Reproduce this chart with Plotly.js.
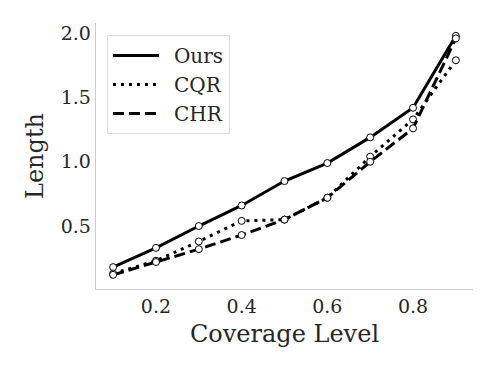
<!DOCTYPE html>
<html>
<head>
<meta charset="utf-8">
<script src="https://cdn.plot.ly/plotly-3.0.1.min.js"></script>
<style>html,body{margin:0;padding:0;background:#fff;}#chart{width:498px;height:374px;}</style>
</head>
<body>
<div id="chart"></div>
<script>
const coverage = [0.1, 0.2, 0.3, 0.4, 0.5, 0.6, 0.7, 0.8, 0.9];
const ours = [0.18, 0.33, 0.50, 0.66, 0.85, 0.99, 1.19, 1.42, 1.98];
const cqr  = [0.13, 0.23, 0.38, 0.54, 0.55, 0.72, 1.04, 1.33, 1.79];
const chr  = [0.12, 0.22, 0.32, 0.43, 0.55, 0.72, 1.00, 1.26, 1.96];
const seriesNames = ['Ours', 'CQR', 'CHR'];
const xTicks = [0.2, 0.4, 0.6, 0.8];
const yTicks = [0.5, 1.0, 1.5, 2.0];

const dashes = ['solid', '3px,5px', '11px,5px'];
const vals = [ours, cqr, chr];
const traces = [];
vals.forEach((v, i) => {
  traces.push({
    x: coverage, y: v, mode: 'lines+markers', showlegend: false,
    line: {color: '#000', width: 3, dash: dashes[i]},
    marker: {size: 7, color: '#fff', line: {color: '#000', width: 1}}
  });
});
vals.forEach((v, i) => {
  traces.push({
    x: [null], y: [null], mode: 'lines', name: seriesNames[i],
    line: {color: '#000', width: 3, dash: dashes[i]}
  });
});

const layout = {
  width: 498, height: 374,
  margin: {l: 96, r: 25, t: 23, b: 85},
  paper_bgcolor: '#fff', plot_bgcolor: '#fff',
  font: {family: 'DejaVu Serif', color: '#262626', size: 20},
  xaxis: {
    range: [0.06, 0.94], tickvals: xTicks, ticktext: xTicks.map(t => t.toFixed(1)),
    showgrid: false, zeroline: false, showline: true, linecolor: '#cccccc', linewidth: 1.25,
    ticks: '', tickfont: {size: 19, color: '#262626'},
    title: {text: 'Coverage Level', font: {size: 24, color: '#262626'}, standoff: 9}
  },
  yaxis: {
    range: [0.01, 2.08], tickvals: yTicks, ticktext: yTicks.map(t => t.toFixed(1)),
    showgrid: false, zeroline: false, showline: true, linecolor: '#cccccc', linewidth: 1.25,
    ticks: '', tickfont: {size: 19, color: '#262626'},
    title: {text: 'Length', font: {size: 24, color: '#262626'}, standoff: 10}
  },
  legend: {
    x: 0.029, y: 0.955, xanchor: 'left', yanchor: 'top',
    bgcolor: '#fff', bordercolor: '#dddddd', borderwidth: 1,
    font: {size: 20, color: '#262626'}, itemwidth: 56
  }
};
Plotly.newPlot('chart', traces, layout, {displayModeBar: false, staticPlot: true}).then(() => {
  document.querySelectorAll('#chart .legend .legendlines path').forEach(p => {
    p.setAttribute('d', 'M5,0h46');
  });
});
</script>
</body>
</html>
